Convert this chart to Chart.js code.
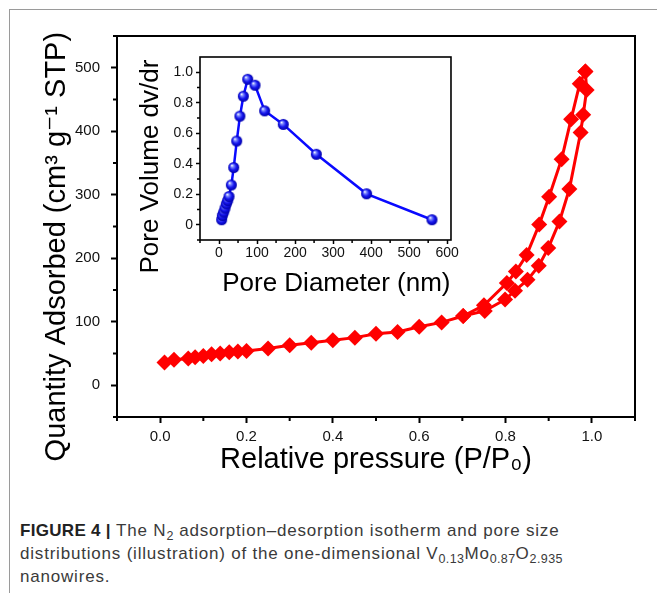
<!DOCTYPE html>
<html><head><meta charset="utf-8">
<script src="https://cdn.jsdelivr.net/npm/chart.js@4.4.1/dist/chart.umd.min.js"></script>
<style>
html,body{margin:0;padding:0;background:#fff;}
body{width:657px;height:593px;position:relative;overflow:hidden;font-family:"Liberation Sans",Arial,sans-serif;}
#frame{position:absolute;left:9px;top:9px;width:648px;height:584px;border-left:1px solid #9a9a9a;border-top:1px solid #9a9a9a;}
#main{position:absolute;left:0;top:0;width:657px;height:480px;}
#inset{position:absolute;left:130px;top:45px;width:330px;height:254px;}
#caption{position:absolute;left:20px;top:519px;width:635px;font-size:17px;letter-spacing:0.8px;line-height:23px;color:#3a3a3a;white-space:nowrap;}
#caption b{font-weight:bold;color:#222;letter-spacing:0.3px;}
#caption sub{font-size:12.5px;letter-spacing:0.4px;vertical-align:-4px;line-height:0;}
</style></head>
<body>
<div id="frame"></div>
<div id="main"><canvas id="c1"></canvas></div>
<div id="inset"><canvas id="c2"></canvas></div>
<div id="caption"><b>FIGURE 4 |</b> The N<sub>2</sub> adsorption–desorption isotherm and pore size<br>distributions (illustration) of the one-dimensional V<sub>0.13</sub>Mo<sub>0.87</sub>O<sub>2.935</sub><br>nanowires.</div>
<script>
// ---- data ----
const adsP = [0.01,0.032,0.065,0.081,0.10,0.119,0.139,0.16,0.18,0.20,0.25,0.30,0.35,0.40,0.451,0.50,0.55,0.60,0.652,0.702,0.752,0.799,0.822,0.851,0.877,0.899,0.925,0.948,0.974,0.980,0.988,0.985];
const adsQ = [36,40,42,44,46,49,50,52,53,54,58,63,67,71,75,81,84,92,99,109,117,135,149,166,188,216,258,309,398,426,465,494];
const desP = [0.985,0.972,0.952,0.930,0.901,0.878,0.849,0.824,0.803,0.750,0.702];
const desQ = [494,475,419,356,297,253,205,179,161,126,109];
const poreD = [7,8.7,12.4,15.8,19.2,22.9,26.3,32.4,38.7,46.6,55,64,75.5,94.7,120,169,256,388,560];
const poreV = [0.033,0.061,0.083,0.109,0.137,0.159,0.185,0.261,0.375,0.549,0.712,0.843,0.954,0.915,0.747,0.658,0.462,0.203,0.033];

const mainXTicks = [0,0.2,0.4,0.6,0.8,1.0];
const mainXLabels = ['0.0','0.2','0.4','0.6','0.8','1.0'];
const mainXMinor = [-0.1,0.1,0.3,0.5,0.7,0.9,1.1];
const mainYTicks = [0,100,200,300,400,500];
const mainYLabels = ['0','100','200','300','400','500'];
const mainYMinor = [-50,50,150,250,350,450,550];
const insetXTicks = [0,100,200,300,400,500,600];
const insetXLabels = ['0','100','200','300','400','500','600'];
const insetXMinor = [-50,50,150,250,350,450,550];
const insetYTicks = [0,0.2,0.4,0.6,0.8,1.0];
const insetYLabels = ['0','0.2','0.4','0.6','0.8','1.0'];
const insetYMinor = [-0.1,0.1,0.3,0.5,0.7,0.9];

const FONT = '"Liberation Sans", Arial, "DejaVu Sans", sans-serif';
const NB = '\u00a0';

const framePlugin = {
  id: 'frame',
  afterDraw(chart, args, o) {
    const {ctx, chartArea: a, scales} = chart;
    ctx.save();
    ctx.strokeStyle = '#000';
    ctx.lineWidth = o.lw;
    ctx.strokeRect(a.left, a.top, a.right - a.left, a.bottom - a.top);
    ctx.lineWidth = o.tw;
    ctx.beginPath();
    o.xMinor.forEach(v => { const p = scales.x.getPixelForValue(v); ctx.moveTo(p, a.bottom); ctx.lineTo(p, a.bottom + o.len); });
    o.yMinor.forEach(v => { const p = scales.y.getPixelForValue(v); ctx.moveTo(a.left, p); ctx.lineTo(a.left - o.len, p); });
    ctx.stroke();
    ctx.restore();
  }
};

function fixTicks(vals) { return s => { s.ticks = vals.map(v => ({value: v})); }; }

function sphere(r) {
  const c = document.createElement('canvas');
  const s = Math.ceil(r * 2) + 2;
  c.width = c.height = s;
  const g = c.getContext('2d');
  const cx = s / 2;
  const grad = g.createRadialGradient(cx - r * 0.35, cx - r * 0.4, r * 0.05, cx, cx, r);
  grad.addColorStop(0, '#ffffff');
  grad.addColorStop(0.22, '#7f8cff');
  grad.addColorStop(0.6, '#1616ee');
  grad.addColorStop(1, '#0000a8');
  g.fillStyle = grad;
  g.beginPath(); g.arc(cx, cx, r, 0, Math.PI * 2); g.fill();
  return c;
}

const redStyle = {showLine: true, borderColor: '#ff0000', borderWidth: 3, pointStyle: 'rectRot', pointRadius: 8,
  pointBackgroundColor: '#ff0000', pointBorderColor: '#ff0000', pointBorderWidth: 0, tension: 0};

new Chart(document.getElementById('c1'), {
  type: 'scatter',
  data: {datasets: [
    Object.assign({label: 'Adsorption', data: adsP.map((x, i) => ({x, y: adsQ[i]}))}, redStyle),
    Object.assign({label: 'Desorption', data: desP.map((x, i) => ({x, y: desQ[i]}))}, redStyle)
  ]},
  options: {
    animation: false, responsive: true, maintainAspectRatio: false,
    layout: {padding: {left: 40, top: 36, right: 22, bottom: 0}},
    plugins: {legend: {display: false}, tooltip: {enabled: false},
      frame: {lw: 2, tw: 2, len: 4, xMinor: mainXMinor, yMinor: mainYMinor}},
    scales: {
      x: {type: 'linear', min: -0.1, max: 1.1,
        afterBuildTicks: fixTicks(mainXTicks), afterFit: s => { s.height = 63; },
        grid: {drawOnChartArea: false, drawTicks: true, tickLength: 6, tickWidth: 2, tickColor: '#000'},
        border: {display: false},
        ticks: {autoSkip: false, maxRotation: 0, padding: 5, color: '#111', font: {family: FONT, size: 15}, callback: (v, i) => mainXLabels[i]},
        title: {display: true, text: 'Relative pressure (P/P₀)', color: '#000', padding: {top: 0, bottom: 3}, font: {family: FONT, size: 29}}
      },
      y: {type: 'linear', min: -50, max: 550,
        afterBuildTicks: fixTicks(mainYTicks), afterFit: s => { s.width = 77; },
        grid: {drawOnChartArea: false, drawTicks: true, tickLength: 6, tickWidth: 2, tickColor: '#000'},
        border: {display: false},
        ticks: {autoSkip: false, padding: 11, color: '#111', font: {family: FONT, size: 15}, callback: (v, i) => mainYLabels[i]},
        title: {display: true, text: 'Quantity Adsorbed (cm³ g⁻¹ STP)' + NB.repeat(5), color: '#000', padding: {top: 0, bottom: 0}, font: {family: FONT, size: 29}}
      }
    }
  },
  plugins: [framePlugin]
});

new Chart(document.getElementById('c2'), {
  type: 'scatter',
  data: {datasets: [{label: 'Pore', data: poreD.map((x, i) => ({x, y: poreV[i]})), showLine: true,
    borderColor: '#0a0aff', borderWidth: 2.5, pointStyle: sphere(5.5), pointRadius: 5.5, tension: 0}]},
  options: {
    animation: false, responsive: true, maintainAspectRatio: false,
    layout: {padding: {left: 5, top: 12, right: 9, bottom: 0}},
    plugins: {legend: {display: false}, tooltip: {enabled: false},
      frame: {lw: 1.6, tw: 1.5, len: 3, xMinor: insetXMinor, yMinor: insetYMinor}},
    scales: {
      x: {type: 'linear', min: -50, max: 610,
        afterBuildTicks: fixTicks(insetXTicks), afterFit: s => { s.height = 59; },
        grid: {drawOnChartArea: false, drawTicks: true, tickLength: 4, tickWidth: 1.5, tickColor: '#000'},
        border: {display: false},
        ticks: {autoSkip: false, maxRotation: 0, padding: 1, color: '#111', font: {family: FONT, size: 14}, callback: (v, i) => insetXLabels[i]},
        title: {display: true, text: NB.repeat(3) + 'Pore Diameter (nm)', color: '#000', padding: {top: 0, bottom: 0}, font: {family: FONT, size: 26}}
      },
      y: {type: 'linear', min: -0.1, max: 1.1,
        afterBuildTicks: fixTicks(insetYTicks), afterFit: s => { s.width = 65; },
        grid: {drawOnChartArea: false, drawTicks: true, tickLength: 4, tickWidth: 1.5, tickColor: '#000'},
        border: {display: false},
        ticks: {autoSkip: false, padding: 3, color: '#111', font: {family: FONT, size: 14}, callback: (v, i) => insetYLabels[i]},
        title: {display: true, text: 'Pore Volume dv/dr' + NB.repeat(5), color: '#000', padding: {top: 0, bottom: 0}, font: {family: FONT, size: 26}}
      }
    }
  },
  plugins: [framePlugin]
});
</script>
</body></html>
